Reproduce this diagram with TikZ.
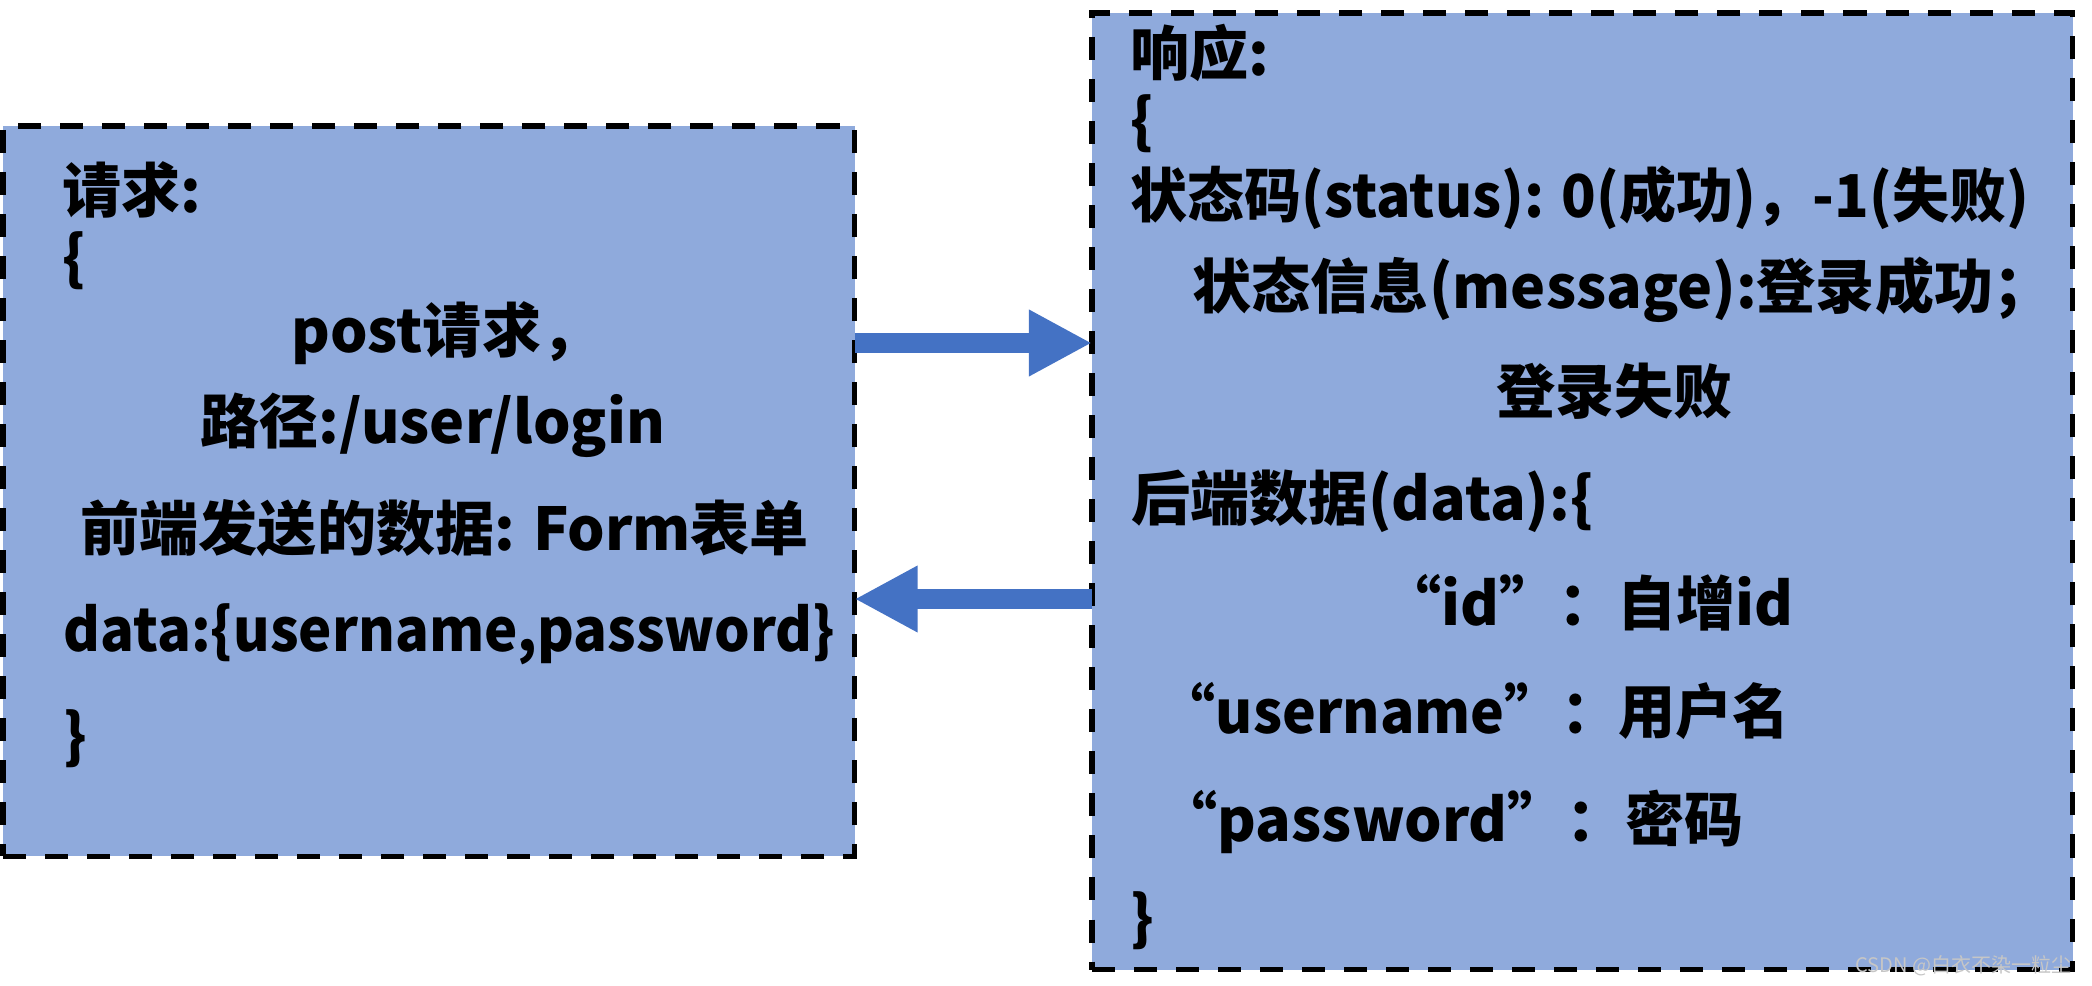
\documentclass[tikz,border=0pt]{standalone}
\usepackage{fontspec}
\setmainfont{Noto Sans CJK SC}
\newfontfamily\narrowfont{Noto Sans CJK SC}[FakeStretch=0.95]
\newfontfamily\slimfont{Noto Sans CJK SC}[FakeStretch=0.965]
\usetikzlibrary{positioning,arrows.meta}
\definecolor{boxfill}{HTML}{8FAADC}
\definecolor{arrowblue}{HTML}{4472C4}
\tikzset{
  panel/.style={draw=black, fill=boxfill, line width=1.6pt, dash pattern=on 0.23cm off 0.19cm, inner sep=0pt, outer sep=0pt, anchor=north west},
  txt/.style={anchor=base west, inner sep=0pt, font=\fontsize{16.8pt}{20pt}\selectfont\bfseries},
  flow/.style={arrowblue, line width=0.2cm, -{Triangle[length=0.63cm, width=0.62cm]}},
}

\begin{document}
\begin{tikzpicture}[x=0.01cm, y=-0.01cm]
    \useasboundingbox (0,0) rectangle (2092,986);

    % the two boxes
    \node (req) [panel, minimum width=8.51cm, minimum height=7.30cm] at (3,126) {};
    \node (resp) [panel, minimum width=9.80cm, minimum height=9.56cm] at (1092,13) {};

    % request text
    \node (reqtitle) [txt] at (62,213) {请求:};
    \node (reqopen) [txt] at (62,280) {\{};
    \node (reqmethod) [txt] at (291,353) {post请求，};
    \node (reqpath) [txt] at (200,444) {路径:/user/login};
    \node (reqform) [txt] at (80,551) {前端发送的数据: Form表单};
    \node (reqdata) [txt] at (63,652) {\narrowfont data:\{username,password\}};
    \node (reqclose) [txt] at (63,757) {\}};

    % response text
    \node (resptitle) [txt] at (1130,76) {响应:};
    \node (respopen) [txt] at (1130,143) {\{};
    \node (respstatus) [txt] at (1130,218) {\slimfont 状态码(status): 0(成功)，-1(失败)};
    \node (respmsg) [txt] at (1192,309) {状态信息(message):登录成功；};
    \node (respfail) [txt] at (1496,414) {登录失败};
    \node (respdata) [txt] at (1131,521) {后端数据(data):\{};
    \node (respid) [txt] at (1382,626) {“id”：自增id};
    \node (respuser) [txt] at (1158,733) {\slimfont “username”：用户名};
    \node (resppass) [txt] at (1158,841) {“password”：密码};
    \node (respclose) [txt] at (1130,939) {\}};

    % arrows between the boxes
    \draw[flow] (req.east |- 0,343) -- (resp.west |- 0,343);
    \draw[flow] (resp.west |- 0,599) -- (req.east |- 0,599);

    \node (mark) [anchor=base east, inner sep=0pt, text=gray!45, font=\fontsize{5.7pt}{6pt}\selectfont] at (2072,972) {CSDN @白衣不染一粒尘};
\end{tikzpicture}
\end{document}
